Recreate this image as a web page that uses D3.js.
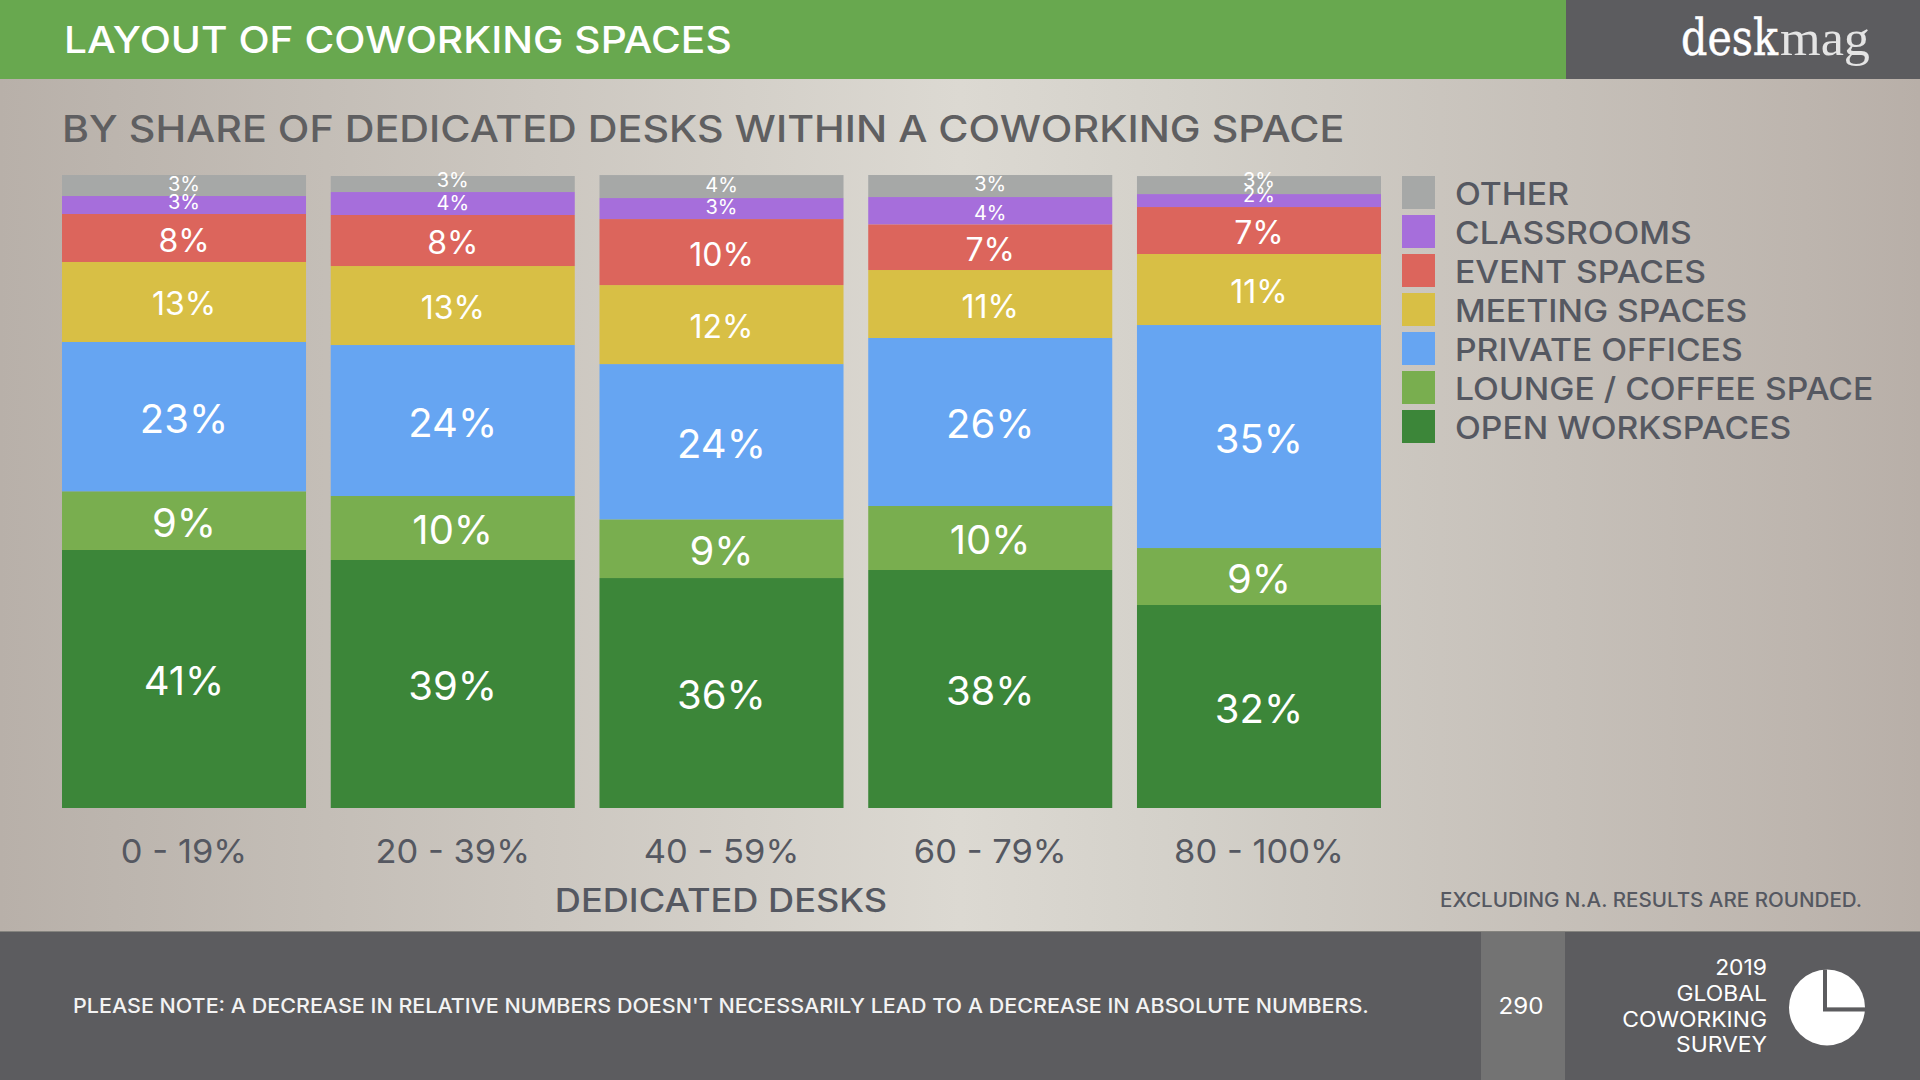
<!DOCTYPE html>
<html>
<head>
<meta charset="utf-8">
<script src="https://cdn.jsdelivr.net/npm/d3@7"></script>
<style>
    html, body { margin: 0; padding: 0; background: #5c5c5f; overflow: hidden; }
    text { font-family: Inter, "Open Sans", sans-serif; }
</style>
</head>
<body>
<div id="chart"></div>
<script>
const categories = ["0 - 19%", "20 - 39%", "40 - 59%", "60 - 79%", "80 - 100%"];
const seriesNames = ["OPEN WORKSPACES", "LOUNGE / COFFEE SPACE", "PRIVATE OFFICES", "MEETING SPACES", "EVENT SPACES", "CLASSROOMS", "OTHER"];
const seriesColors = ["#3c8639", "#79ae4f", "#66a5f2", "#d8bf45", "#dc655c", "#a66edb", "#a6a8a7"];

// heights read off the picture, so they do not always round to the printed label
const openValues = [40.76, 39.18, 36.33, 37.6, 32.07];
const loungeValues = [9.27, 10.11, 9.27, 10.11, 9.0];
const privateValues = [23.59, 23.85, 24.53, 26.54, 35.23];
const meetingValues = [12.64, 12.48, 12.48, 10.74, 11.22];
const eventValues = [7.58, 8.06, 10.43, 7.22, 7.42];
const classroomValues = [2.84, 3.63, 3.32, 4.31, 2.05];
const otherValues = [3.32, 2.53, 3.63, 3.48, 2.84];

const openLabels = ["41%", "39%", "36%", "38%", "32%"];
const loungeLabels = ["9%", "10%", "9%", "10%", "9%"];
const privateLabels = ["23%", "24%", "24%", "26%", "35%"];
const meetingLabels = ["13%", "13%", "12%", "11%", "11%"];
const eventLabels = ["8%", "8%", "10%", "7%", "7%"];
const classroomLabels = ["3%", "4%", "3%", "4%", "2%"];
const otherLabels = ["3%", "3%", "4%", "3%", "3%"];

const footerLines = ["2019", "GLOBAL", "COWORKING", "SURVEY"];

const width = 1920;
const height = 1080;
const grey = "#5c5c5f";
const ink = "#555861";

const allValues = [openValues, loungeValues, privateValues, meetingValues, eventValues, classroomValues, otherValues];
const allLabels = [openLabels, loungeLabels, privateLabels, meetingLabels, eventLabels, classroomLabels, otherLabels];

// small labels sit a bit off centre in the original
const labelSize = [40, 40, 40, 32, 32, 20, 20];
const labelNudge = [
    [2, 2, 2, 2, 2],
    [2, 2, 2, 2, 2],
    [2, 2, 2, 2, 2],
    [2, 2, 2, 2, 2],
    [2, 2, 2, 2, 2],
    [-3.7, -1.2, -2, 2, -5.5],
    [-2, -4.7, -1.5, -2, -5]
];

const rows = categories.map((c, i) => {
    const row = { category: c };
    seriesNames.forEach((s, j) => { row[s] = allValues[j][i]; });
    return row;
});

const svg = d3.select("#chart").append("svg")
    .attr("width", width)
    .attr("height", height)
    .style("display", "block");

const bg = svg.append("defs").append("linearGradient").attr("id", "bg");
[[0, "#b8b0a9"], [0.06, "#bcb5ae"], [0.5, "#dcd9d2"], [0.62, "#d3d0c9"], [0.94, "#bdb5ae"], [1, "#b8afa8"]].forEach(s => {
    bg.append("stop").attr("offset", s[0]).attr("stop-color", s[1]);
});
svg.append("rect").attr("width", width).attr("height", height).attr("fill", "url(#bg)");

// widen a text to make up for the missing Montserrat
function stretch(sel, k) {
    sel.each(function() {
        const w = this.getComputedTextLength();
        d3.select(this).attr("textLength", w * k).attr("lengthAdjust", "spacingAndGlyphs");
    });
    return sel;
}

// header
svg.append("rect").attr("width", 1566).attr("height", 79).attr("fill", "#68a84f");
svg.append("rect").attr("x", 1566).attr("width", width - 1566).attr("height", 79).attr("fill", grey);
svg.append("text").attr("x", 64).attr("y", 53)
    .attr("font-size", 37).attr("font-weight", 500).attr("fill", "#fff")
    .text("LAYOUT OF COWORKING SPACES")
    .call(stretch, 1.1);
svg.append("text").attr("x", 1681).attr("y", 55)
    .attr("font-size", 50).attr("fill", "#fff")
    .attr("stroke", "#fff").attr("stroke-width", 0.5)
    .attr("textLength", 97).attr("lengthAdjust", "spacingAndGlyphs")
    .style("font-family", "'DejaVu Serif', serif")
    .text("desk");
svg.append("text").attr("x", 1780).attr("y", 55)
    .attr("font-size", 50).attr("fill", "#e4e4e4")
    .attr("textLength", 90).attr("lengthAdjust", "spacingAndGlyphs")
    .style("font-family", "'Liberation Serif', serif")
    .text("mag");

svg.append("text").attr("x", 62).attr("y", 141.5)
    .attr("font-size", 37).attr("fill", "#5f5f61").attr("font-weight", 500)
    .text("BY SHARE OF DEDICATED DESKS WITHIN A COWORKING SPACE")
    .call(stretch, 1.114);

// bars
const x = d3.scaleBand().domain(categories).range([62, 1381]).paddingInner(0.092).paddingOuter(0);
const y = d3.scaleLinear().domain([0, 100]).range([808, 175]);
const stacked = d3.stack().keys(seriesNames)(rows);

const layers = svg.append("g").selectAll("g")
    .data(stacked)
    .join("g")
    .attr("fill", (d, i) => seriesColors[i]);

layers.selectAll("rect")
    .data(d => d)
    .join("rect")
    .attr("x", d => x(d.data.category))
    .attr("y", d => y(d[1]))
    .attr("width", x.bandwidth())
    .attr("height", d => y(d[0]) - y(d[1]));

stacked.forEach((layer, j) => {
    svg.append("g").selectAll("text")
        .data(layer)
        .join("text")
        .attr("x", d => x(d.data.category) + x.bandwidth() / 2)
        .attr("y", (d, i) => (y(d[0]) + y(d[1])) / 2 + labelNudge[j][i])
        .attr("dy", "0.36em")
        .attr("text-anchor", "middle")
        .attr("font-size", labelSize[j])
        .attr("fill", "#fff")
        .text((d, i) => allLabels[j][i]);
});

// category axis
const axis = svg.append("g")
    .attr("transform", "translate(0,808)")
    .call(d3.axisBottom(x).tickSize(0).tickPadding(28));
axis.select(".domain").remove();
axis.selectAll("text")
    .attr("font-size", 33)
    .attr("fill", ink)
    .style("font-family", "Inter, sans-serif")
    .attr("dy", 0)
    .attr("y", 54.7)
    .call(stretch, 1.045);

svg.append("text").attr("x", 721).attr("y", 911.7)
    .attr("text-anchor", "middle").attr("font-size", 32).attr("font-weight", 500).attr("fill", ink)
    .text("DEDICATED DESKS")
    .call(stretch, 1.13);

// legend, top entry first
const legendY = d3.scaleBand().domain(seriesNames.slice().reverse()).range([176, 443]).paddingInner(0.154).paddingOuter(0);
const legend = svg.append("g").selectAll("g")
    .data(seriesNames)
    .join("g")
    .attr("transform", d => `translate(1402,${legendY(d)})`);
legend.append("rect")
    .attr("width", 33)
    .attr("height", legendY.bandwidth())
    .attr("fill", (d, i) => seriesColors[i]);
legend.append("text")
    .attr("x", 53)
    .attr("y", 28.5)
    .attr("font-size", 31)
    .attr("font-weight", 500)
    .attr("fill", ink)
    .text(d => d)
    .call(stretch, 1.086);

svg.append("text").attr("x", 1862).attr("y", 906.7)
    .attr("text-anchor", "end").attr("font-size", 19.5).attr("font-weight", 500).attr("fill", ink)
    .text("EXCLUDING N.A. RESULTS ARE ROUNDED.")
    .call(stretch, 1.055);

// footer
svg.append("rect").attr("y", 931).attr("width", width).attr("height", height - 931).attr("fill", grey);
svg.append("rect").attr("y", 931).attr("width", width).attr("height", 1).attr("fill", "#85847f");
svg.append("rect").attr("x", 1481).attr("y", 932).attr("width", 84).attr("height", height - 932).attr("fill", "#737373");
svg.append("text").attr("x", 73).attr("y", 1012.7)
    .attr("font-size", 20).attr("font-weight", 500).attr("fill", "#f3f3f3")
    .text("PLEASE NOTE: A DECREASE IN RELATIVE NUMBERS DOESN'T NECESSARILY LEAD TO A DECREASE IN ABSOLUTE NUMBERS.")
    .call(stretch, 1.074);
svg.append("text").attr("x", 1521).attr("y", 1014)
    .attr("text-anchor", "middle").attr("font-size", 23).attr("fill", "#fff")
    .text("290")
    .call(stretch, 1.05);
svg.append("g").selectAll("text")
    .data(footerLines)
    .join("text")
    .attr("x", 1767)
    .attr("y", (d, i) => 975 + i * 25.8)
    .attr("text-anchor", "end")
    .attr("font-size", 21.5)
    .attr("fill", "#fff")
    .text(d => d)
    .call(stretch, 1.063);

const pieArc = d3.arc().innerRadius(0).outerRadius(38);
const icon = svg.append("g").attr("transform", "translate(1827,1007.5)");
icon.selectAll("path")
    .data(d3.pie().sort(null)([1, 3]))
    .join("path")
    .attr("d", pieArc)
    .attr("fill", "#fff");
icon.append("path")
    .attr("d", d3.line()([[-2, -38], [-2, 2], [38, 2]]))
    .attr("fill", "none")
    .attr("stroke", grey)
    .attr("stroke-width", 4);
</script>
</body>
</html>
